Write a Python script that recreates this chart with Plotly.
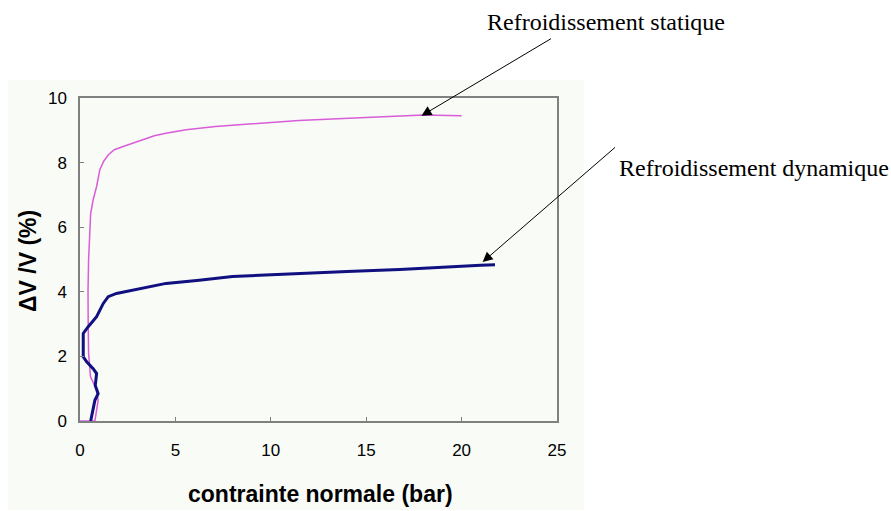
import plotly.graph_objects as go

# Contrainte normale (bar) et variation de volume ΔV/V (%)
statique_x = [0.0, 0.78, 0.95, 0.85, 0.55, 0.45, 0.43, 0.42, 0.45, 0.50, 0.56, 0.69, 0.87,
              1.04, 1.25, 1.50, 1.80, 2.26, 2.78, 3.30, 3.90, 4.50, 5.56, 7.10, 8.85,
              11.46, 13.5, 15.7, 17.0, 18.0, 20.0]
statique_y = [0.0, 0.0, 0.64, 1.00, 1.37, 2.10, 3.00, 4.00, 5.00, 6.00, 6.43, 6.85, 7.26,
              7.78, 8.05, 8.25, 8.40, 8.50, 8.60, 8.72, 8.83, 8.91, 9.02, 9.12, 9.20,
              9.30, 9.36, 9.42, 9.44, 9.47, 9.45]

dynamique_x = [0.56, 0.65, 0.78, 0.95, 0.80, 0.87, 0.69, 0.35, 0.17, 0.17, 0.17, 0.43,
               0.87, 1.22, 1.48, 1.91, 2.78, 3.65, 4.51, 6.25, 7.99, 9.72, 11.46, 14.0,
               16.76, 19.0, 21.0, 21.75]
dynamique_y = [0.0, 0.30, 0.64, 0.85, 1.10, 1.47, 1.62, 1.83, 1.99, 2.19, 2.71, 2.92,
               3.23, 3.64, 3.85, 3.95, 4.05, 4.16, 4.26, 4.36, 4.47, 4.52, 4.57, 4.63,
               4.69, 4.77, 4.82, 4.84]

x_ticks = [0, 5, 10, 15, 20, 25]
y_ticks = [0, 2, 4, 6, 8, 10]

fig = go.Figure()
fig.add_trace(go.Scatter(x=statique_x, y=statique_y, mode="lines",
                         line=dict(color="#d95cd9", width=1.5), showlegend=False))
fig.add_trace(go.Scatter(x=dynamique_x, y=dynamique_y, mode="lines",
                         line=dict(color="#101080", width=3), showlegend=False))

panel = "#f9fbf6"
axis_common = dict(showline=True, linecolor="#808080", linewidth=1.5, mirror=True,
                   ticks="inside", ticklen=4, tickcolor="#808080", showgrid=False,
                   zeroline=False, tickfont=dict(family="Arial, Liberation Sans", size=17,
                                                 color="black"))
fig.update_xaxes(range=[0, 25], tickvals=x_ticks, ticklabelstandoff=13, **axis_common)
fig.update_yaxes(range=[0, 10], tickvals=y_ticks, ticklabelstandoff=8, **axis_common)

# panneau de fond autour du graphique
W, H = 891, 511
L, R, T, B = 80, 334, 98, 90
pw, ph = W - L - R, H - T - B


def px(xp):
    return (xp - L) / pw


def py(yp):
    return (H - B - yp) / ph


fig.add_shape(type="rect", xref="paper", yref="paper", x0=px(8), x1=px(584),
              y0=py(510), y1=py(80), fillcolor=panel, line=dict(width=0), layer="below")

title_font = dict(family="Arial, Liberation Sans", size=23, color="black")
serif = dict(family="Liberation Serif, Times New Roman", size=24, color="black")
annotations = [
    dict(text="<b>contrainte normale (bar)</b>", xref="paper", yref="paper",
         x=px(320), y=py(494), xanchor="center", yanchor="middle", showarrow=False,
         font=title_font),
    dict(text="<b>ΔV /V (%)</b>", xref="paper", yref="paper", x=px(28), y=py(261),
         xanchor="center", yanchor="middle", showarrow=False, textangle=-90,
         font=title_font),
    dict(text="Refroidissement statique", xref="paper", yref="paper",
         x=px(606), y=py(22), xanchor="center", yanchor="middle", showarrow=False,
         font=serif),
    dict(text="Refroidissement dynamique", xref="paper", yref="paper",
         x=px(754), y=py(168), xanchor="center", yanchor="middle", showarrow=False,
         font=serif),
    dict(x=17.9, y=9.45, xref="x", yref="y", ax=131, ay=-78, text="", showarrow=True,
         arrowhead=2, arrowsize=2, arrowwidth=1, arrowcolor="black"),
    dict(x=21.1, y=4.92, xref="x", yref="y", ax=134, ay=-116, text="", showarrow=True,
         arrowhead=2, arrowsize=2, arrowwidth=1, arrowcolor="black"),
]

fig.update_layout(width=W, height=H, margin=dict(l=L, r=R, t=T, b=B),
                  paper_bgcolor="white", plot_bgcolor=panel,
                  annotations=annotations, showlegend=False)

fig.write_html("out.html")
